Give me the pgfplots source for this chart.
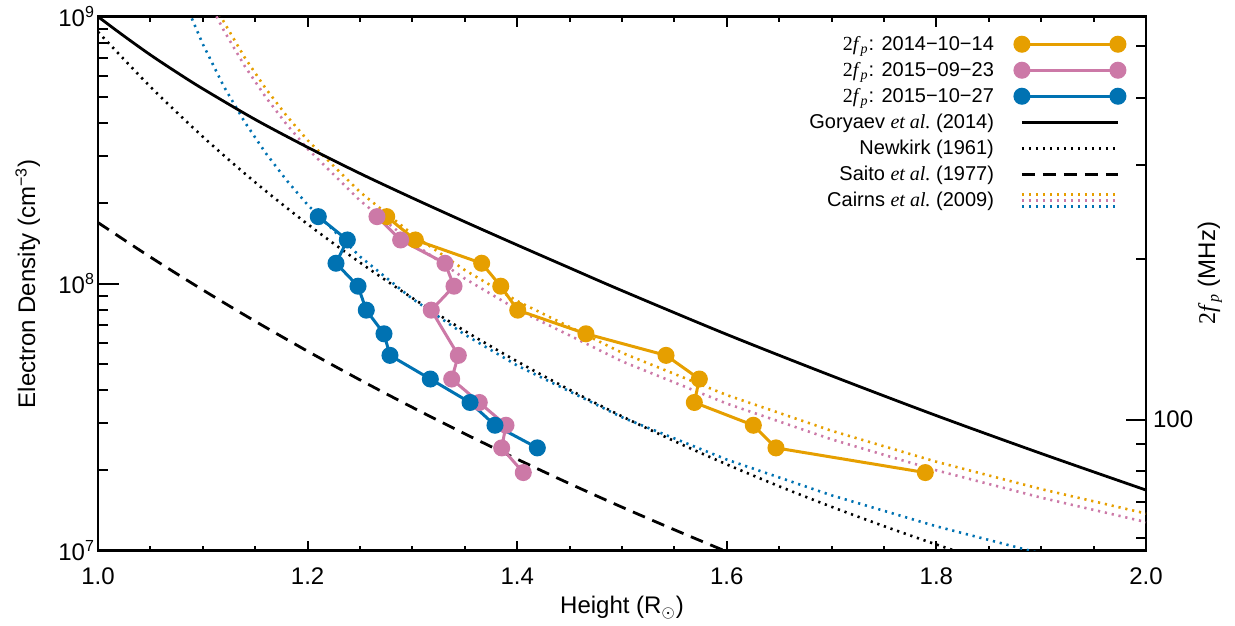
\documentclass[border=0pt]{standalone}
\usepackage{fontspec}
\setmainfont{Liberation Sans}
\newfontfamily\tms{Liberation Serif}
\usepackage{pgfplots}
\pgfplotsset{compat=1.18}

\definecolor{cor}{HTML}{E69F00}
\definecolor{cpk}{HTML}{CC79A7}
\definecolor{cbl}{HTML}{0072B2}

\newcommand{\tfp}{{\tms 2\textit{f}\textsubscript{\textit{p}}}}
\newcommand{\etal}{{\tms\textit{et al.}}}
\tikzset{
  dotsty/.style={line width=1.3pt, dash pattern=on 1.1pt off 2.4pt},
  dashsty/.style={line width=1.4pt, dash pattern=on 6.5pt off 4pt},
  datasty/.style={line width=1.5pt, mark=*, mark size=3.5pt, mark options={solid}},
}

\begin{document}
\begin{tikzpicture}
% ---- main axis: data, frame, x ticks, legend
\begin{axis}[scale only axis, width=524pt, height=267pt,
  xmin=1, xmax=2, ymode=log, ymin=1e7, ymax=1e9,
  tick align=inside,
  every tick/.style={black, line width=1pt},
  axis line style={line width=1.25pt},
  tick label style={font=\fontsize{12}{14}\selectfont},
  label style={font=\fontsize{12}{14}\selectfont},
  xtick={1,1.2,1.4,1.6,1.8,2},
  minor x tick num=3,
  major tick length=5pt, minor tick length=2.5pt,
  ytick=\empty,
  xticklabel style={yshift=-5pt, /pgf/number format/fixed, /pgf/number format/precision=1,
    /pgf/number format/fixed zerofill, /pgf/number format/assume math mode=true},
  xlabel={Height (R\textsubscript{$\odot$})},
  xlabel style={at={(axis description cs:0.5,-0.107)}, anchor=center},
  legend image code/.code={\draw[mark repeat=1,#1] plot coordinates {(0pt,0pt) (48pt,0pt)};},
  legend style={at={(axis description cs:0.986,0.981)}, anchor=north east,
    draw=none, fill=none, font=\fontsize{10}{12}\selectfont,
    column sep=10pt,
    nodes={inner sep=0.5pt, text height=9pt, text depth=3pt}},
  legend cell align=right,
  legend plot pos=right,
]
% Cairns et al. (2009)
\addplot[cor, dotsty, forget plot] coordinates {
(1.11,1.139e9) (1.12,9.569e8) (1.14,7.031e8) (1.16,5.383e8) (1.18,4.253e8) (1.20,3.445e8)
(1.25,2.205e8) (1.30,1.531e8) (1.35,1.125e8) (1.40,8.613e7) (1.50,5.512e7) (1.60,3.828e7)
(1.70,2.813e7) (1.80,2.153e7) (1.90,1.701e7) (2.00,1.378e7)};
\addplot[cpk, dotsty, forget plot] coordinates {
(1.11,1.058e9) (1.12,8.889e8) (1.14,6.531e8) (1.16,5.000e8) (1.18,3.950e8) (1.20,3.200e8)
(1.25,2.048e8) (1.30,1.422e8) (1.35,1.045e8) (1.40,8.000e7) (1.50,5.120e7) (1.60,3.556e7)
(1.70,2.612e7) (1.80,2.000e7) (1.90,1.580e7) (2.00,1.280e7)};
\addplot[cbl, dotsty, forget plot] coordinates {
(1.08,1.234e9) (1.09,9.753e8) (1.10,7.900e8) (1.12,5.486e8) (1.14,4.031e8) (1.16,3.086e8)
(1.18,2.438e8) (1.20,1.975e8) (1.25,1.264e8) (1.30,8.778e7) (1.35,6.449e7) (1.40,4.938e7)
(1.50,3.160e7) (1.60,2.194e7) (1.70,1.612e7) (1.80,1.234e7) (1.90,9.753e6)};
% Goryaev et al. (2014)
\addplot[black, line width=1.4pt, smooth, forget plot] coordinates {
(1.000,1.000e9) (1.025,8.453e8) (1.050,7.195e8) (1.075,6.194e8) (1.10,5.370e8) (1.15,4.121e8)
(1.20,3.243e8) (1.25,2.588e8) (1.30,2.094e8) (1.35,1.706e8) (1.40,1.396e8) (1.45,1.146e8)
(1.50,9.419e7) (1.60,6.457e7) (1.70,4.519e7) (1.80,3.206e7) (1.90,2.312e7) (2.00,1.687e7)};
% Newkirk (1961)
\addplot[black, dotsty, smooth, forget plot] coordinates {
(1.00,8.775e8) (1.05,5.465e8) (1.10,3.553e8) (1.15,2.397e8) (1.20,1.672e8) (1.25,1.200e8)
(1.30,8.837e7) (1.35,6.656e7) (1.40,5.116e7) (1.45,4.005e7) (1.50,3.186e7) (1.55,2.573e7)
(1.60,2.105e7) (1.65,1.743e7) (1.70,1.460e7) (1.75,1.236e7) (1.80,1.055e7) (1.85,9.090e6)};
% Saito et al. (1977)
\addplot[black, dashsty, smooth, forget plot] coordinates {
(1.00,1.694e8) (1.05,1.258e8) (1.10,9.477e7) (1.15,7.233e7) (1.20,5.587e7) (1.25,4.362e7)
(1.30,3.442e7) (1.35,2.741e7) (1.40,2.202e7) (1.45,1.783e7) (1.50,1.456e7) (1.55,1.198e7)
(1.60,9.920e6) (1.65,8.270e6)};
% 2f_p data
\addplot[cor, datasty] coordinates {
(1.2755,1.783e8) (1.3028,1.458e8) (1.3661,1.193e8) (1.3843,9.788e7) (1.4005,7.961e7)
(1.4656,6.493e7) (1.5420,5.390e7) (1.5738,4.395e7) (1.5690,3.591e7) (1.6253,2.950e7)
(1.6469,2.427e7) (1.7894,1.962e7)};
\addlegendentry{\tfp: 2014−10−14}
\addplot[cpk, datasty] coordinates {
(1.2662,1.783e8) (1.2888,1.458e8) (1.3311,1.193e8) (1.3397,9.788e7) (1.3180,7.961e7)
(1.3438,5.390e7) (1.3375,4.395e7) (1.3638,3.591e7) (1.3893,2.950e7) (1.3852,2.427e7)
(1.4058,1.962e7)};
\addlegendentry{\tfp: 2015−09−23}
\addplot[cbl, datasty] coordinates {
(1.2102,1.783e8) (1.2379,1.458e8) (1.2271,1.193e8) (1.2481,9.788e7) (1.2560,7.961e7)
(1.2729,6.493e7) (1.2786,5.390e7) (1.3171,4.395e7) (1.3550,3.591e7) (1.3788,2.950e7)
(1.4192,2.427e7)};
\addlegendentry{\tfp: 2015−10−27}
\addlegendimage{black, line width=1.4pt}
\addlegendentry{Goryaev \etal\ (2014)}
\addlegendimage{black, dotsty}
\addlegendentry{Newkirk (1961)}
\addlegendimage{black, dashsty}
\addlegendentry{Saito \etal\ (1977)}
\addlegendimage{legend image code/.code={
  \draw[cor, dotsty] (0pt,3pt) -- (48pt,3pt);
  \draw[cpk, dotsty] (0pt,0pt) -- (48pt,0pt);
  \draw[cbl, dotsty] (0pt,-3pt) -- (48pt,-3pt);}}
\addlegendentry{Cairns \etal\ (2009)}
\end{axis}
% ---- left y axis ticks
\begin{axis}[scale only axis, width=524pt, height=267pt,
  xmin=1, xmax=2, ymode=log, ymin=1e7, ymax=1e9,
  tick align=inside,
  every tick/.style={black, line width=1pt},
  tick label style={font=\fontsize{12}{14}\selectfont},
  label style={font=\fontsize{12}{14}\selectfont},
  hide x axis, axis line style={draw=none},
  ytick pos=left,
  ytick={1e7,1e8,1e9},
  yticklabels={10\textsuperscript{7},10\textsuperscript{8},10\textsuperscript{9}},
  major tick length=10.5pt, minor tick length=5pt,
  yticklabel style={xshift=2pt},
  ylabel={Electron Density (cm\textsuperscript{−3})},
  ylabel style={at={(axis description cs:-0.067,0.5)}, anchor=center},
]
\end{axis}
% ---- right axis: 2f_p
\begin{axis}[scale only axis, width=524pt, height=267pt,
  xmin=1, xmax=2, ymode=log, ymin=56.80, ymax=567.9,
  tick align=inside,
  every tick/.style={black, line width=1pt},
  tick label style={font=\fontsize{12}{14}\selectfont},
  label style={font=\fontsize{12}{14}\selectfont},
  hide x axis, axis line style={draw=none},
  ytick pos=right, yticklabel pos=right,
  ytick={100}, yticklabels={100},
  minor ytick={60,70,80,90,200,300,400,500},
  major tick length=10pt, minor tick length=5pt,
  ylabel={\tfp\ (MHz)},
  ylabel style={at={(axis description cs:1.061,0.52)}, anchor=center},
]
\end{axis}
\path[use as bounding box] ([shift={(-49pt,-34.5pt)}]current axis.south west) rectangle ([shift={(44.5pt,7pt)}]current axis.north east);
\end{tikzpicture}
\end{document}
